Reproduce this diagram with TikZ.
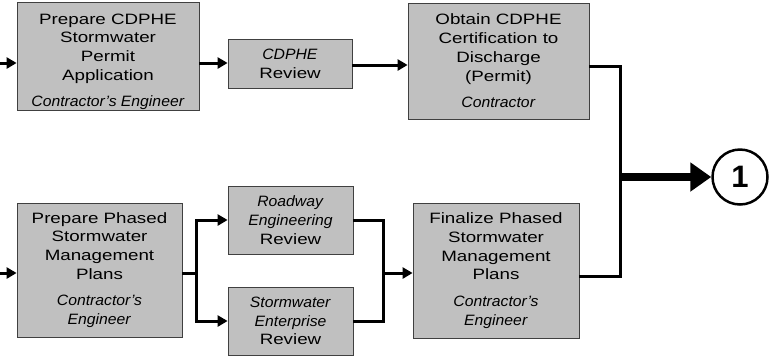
\documentclass[tikz,border=0pt]{standalone}
\usepackage{fontspec}
\setmainfont{Liberation Sans}[UprightFeatures={FakeStretch=1.25},ItalicFeatures={FakeStretch=1.05}]
\usepackage{tikz}
\usetikzlibrary{arrows.meta}
\definecolor{boxgray}{RGB}{192,192,192}
\tikzstyle{task} = [rectangle, draw=black!75, line width=0.8pt, fill=boxgray, align=center, inner sep=0pt, font=\fontsize{15}{18.7}\selectfont]
\tikzstyle{arrow} = [line width=3pt, -{Triangle[length=10pt,width=11pt]}]
\tikzstyle{line} = [line width=3pt]
\tikzstyle{bigarrow} = [line width=8pt, -{Triangle[length=21pt,width=28pt]}]
\tikzstyle{marker} = [circle, draw=black, line width=2.5pt, minimum size=55pt, inner sep=0pt, font=\fontsize{31}{31}\selectfont\bfseries]

\begin{document}
\begin{tikzpicture}[x=1pt, y=-1pt]
	\useasboundingbox (0,0) rectangle (770,357);

	\node (permit) [task, minimum width=182pt, minimum height=108pt] at (108,56) {\rule{0pt}{22pt}Prepare CDPHE\\Stormwater\\Permit\\Application\\[8pt]\textit{Contractor's Engineer}};
	\node (cdphe) [task, minimum width=124pt, minimum height=49pt] at (290,63.5) {\textit{CDPHE}\\Review};
	\node (certif) [task, minimum width=181pt, minimum height=116pt] at (498.5,61) {Obtain CDPHE\\Certification to\\Discharge\\(Permit)\\[8pt]\textit{Contractor}};
	\node (phased) [task, minimum width=165pt, minimum height=134pt] at (99.5,270) {Prepare Phased\\Stormwater\\Management\\Plans\\[8pt]\textit{Contractor's}\\\textit{Engineer}};
	\node (roadway) [task, minimum width=125pt, minimum height=68pt] at (290.5,220) {\textit{Roadway}\\\textit{Engineering}\\Review};
	\node (enterprise) [task, minimum width=125pt, minimum height=68pt] at (290.5,321) {\textit{Stormwater}\\\textit{Enterprise}\\Review};
	\node (finalize) [task, minimum width=166pt, minimum height=135pt] at (496,270.5) {Finalize Phased\\Stormwater\\Management\\Plans\\[8pt]\textit{Contractor's}\\\textit{Engineer}};
	\node (one) [marker] at (740,177) {1};

	\coordinate (in1) at (0,63);
	\coordinate (in2) at (0,273);
	\coordinate (split) at (196,273);
	\coordinate (merge) at (383,273);
	\coordinate (join) at (620,177);

	\draw [arrow] (in1) -- (in1 -| permit.west);
	\draw [arrow] (permit.east |- in1) -- (cdphe.west |- in1);
	\draw [arrow] ([yshift=-1.5pt]cdphe.east) -- ([yshift=-1.5pt]cdphe.east -| certif.west);
	\draw [line] ([yshift=-5pt]certif.east) -| ([yshift=-1.5pt]join) -- (join);
	\draw [line] ([yshift=-5.5pt]finalize.east) -| (join);
	\draw [bigarrow] (join) -- (one);

	\draw [arrow] (in2) -- (in2 -| phased.west);
	\draw [line] (phased.east |- split) -- (split);
	\draw [arrow] (split) |- (roadway.west);
	\draw [arrow] (split) |- (enterprise.west);
	\draw [line] (roadway.east) -| (merge);
	\draw [line] (enterprise.east) -| (merge);
	\draw [arrow] (merge) -- (merge -| finalize.west);

\end{tikzpicture}
\end{document}
